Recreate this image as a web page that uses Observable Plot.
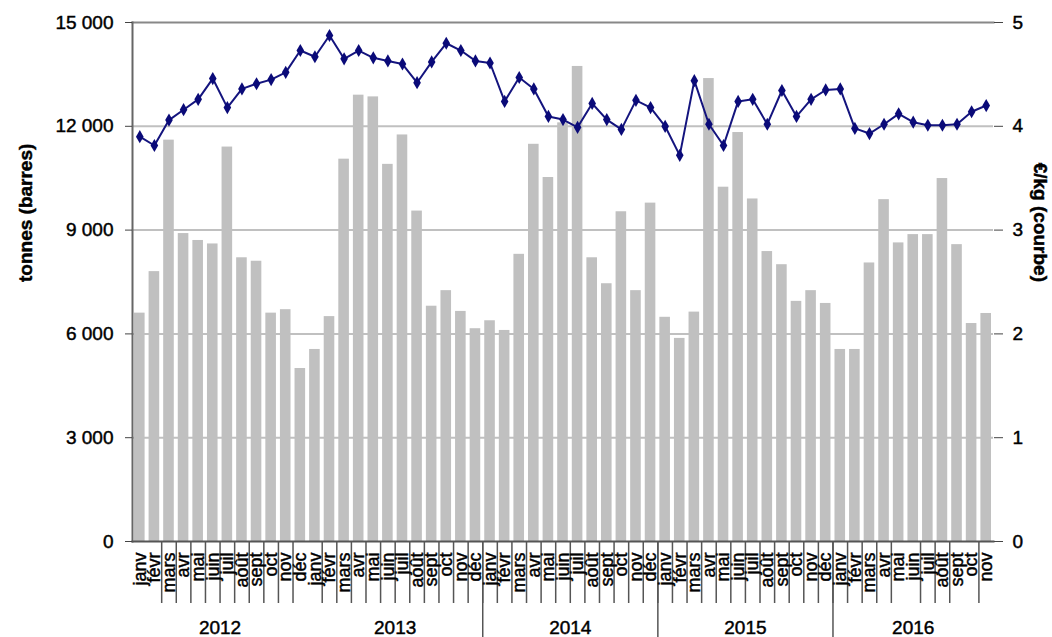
<!DOCTYPE html>
<html><head><meta charset="utf-8">
<script src="https://cdn.jsdelivr.net/npm/d3@7"></script>
<script src="https://cdn.jsdelivr.net/npm/@observablehq/plot@0.6"></script>
<style>body{margin:0;background:#fff} svg{display:block} svg text{stroke:#000;stroke-width:0.45px}</style>
</head><body><div id="chart"></div>
<script>
const years = [2012, 2013, 2014, 2015, 2016];
const monthNames = ["janv","févr","mars","avr","mai","juin","juil","août","sept","oct","nov","déc"];
const tonnes = [
  6600, 7800, 11600, 8900, 8700, 8600, 11400, 8200, 8100, 6600, 6700, 5000,
  5550, 6500, 11050, 12900, 12850, 10900, 11750, 9550, 6800, 7250, 6650, 6150,
  6380, 6100, 8300, 11480, 10520, 12100, 13730, 8200, 7450, 9530, 7250, 9780,
  6480, 5870, 6630, 13380, 10240, 11820, 9900, 8380, 8000, 6940, 7250, 6880,
  5550, 5550, 8050, 9880, 8630, 8870, 8870, 10490, 8580, 6300, 6590
];
const prix = [
  3.90, 3.815, 4.06, 4.16, 4.26, 4.46, 4.18, 4.36, 4.41, 4.45, 4.52, 4.73,
  4.67, 4.875, 4.65, 4.73, 4.66, 4.63, 4.60, 4.42, 4.62, 4.80, 4.73, 4.63,
  4.61, 4.24, 4.47, 4.36, 4.095, 4.065, 3.99, 4.22, 4.065, 3.97, 4.25, 4.18,
  4.00, 3.72, 4.44, 4.02, 3.815, 4.24, 4.26, 4.02, 4.345, 4.095, 4.26, 4.35,
  4.36, 3.98, 3.93, 4.02, 4.12, 4.04, 4.01, 4.01, 4.02, 4.14, 4.20
];
const leftTicks = [0, 3000, 6000, 9000, 12000, 15000];
const rightTicks = [0, 1, 2, 3, 4, 5];
const yearBreaks = [24, 36, 48];
const monthSeparators = d3.range(2, 59).filter(b => b !== 12 && b !== 53 && b !== 57);

const N = tonnes.length;
const ratio = 3000; // 1 €/kg on right axis = 3000 t on left axis
const data = tonnes.map((t, i) => ({
  i, t, p: prix[i], m: monthNames[i % 12], year: years[Math.floor(i / 12)]
}));

const W = 1052, H = 637, mL = 132, mR = 59, mT = 22, mB = 96;
const step = (W - mL - mR) / N;
const pxToY = px => px * 15000 / (H - mT - mB);
const fmt = d => d === 0 ? "0" : d3.format(",")(d).replace(/,/g, "\u00a0");

const yearMarks = years.map(y => {
  const idx = data.filter(d => d.year === y).map(d => d.i);
  const n = idx.length;
  const mid = idx[Math.floor(n / 2)];
  return Plot.text([y], {
    x: () => mid, y: () => 0, text: d => String(d),
    dx: n % 2 === 0 ? -step / 2 : 0, dy: 86,
    fontSize: 19, fill: "#000", lineAnchor: "middle"
  });
});

const chart = Plot.plot({
  width: W, height: H,
  marginLeft: mL, marginRight: mR, marginTop: mT, marginBottom: mB,
  style: {fontFamily: "'Liberation Sans', Arial, sans-serif", fontSize: "19px", color: "#000", background: "#fff"},
  x: {type: "band", domain: d3.range(N), padding: 0, axis: null},
  y: {domain: [0, 15000], axis: null},
  marks: [
    Plot.ruleY(leftTicks.slice(1, -1), {stroke: "#c0c0c0", strokeWidth: 2}),
    Plot.barY(data, {x: "i", y: "t", fill: "#c0c0c0", insetLeft: 2, insetRight: 2}),
    Plot.frame({anchor: "top", stroke: "#888", strokeWidth: 2}),
    Plot.frame({anchor: "left", stroke: "#666", strokeWidth: 2}),
    Plot.frame({anchor: "bottom", stroke: "#555", strokeWidth: 2}),
    Plot.axisY(leftTicks, {anchor: "left", tickFormat: fmt, tickSize: 7, tickPadding: 12, stroke: "#444", fontSize: 19, label: null}),
    Plot.axisY(rightTicks.map(v => v * ratio), {anchor: "right", tickFormat: d => String(d / ratio), tickSize: 9, tickPadding: 10, stroke: "#444", fontSize: 19, label: null}),
    Plot.ruleX(monthSeparators, {x: d => d, dx: -step / 2, y1: () => 0, y2: () => -pxToY(62), stroke: "#555", strokeWidth: 1.5}),
    Plot.ruleX(yearBreaks, {x: d => d, dx: -step / 2, y1: () => 0, y2: () => -pxToY(96), stroke: "#555", strokeWidth: 1.5}),
    Plot.line(data, {x: "i", y: d => d.p * ratio, stroke: "#14147e", strokeWidth: 2}),
    Plot.dot(data, {x: "i", y: d => d.p * ratio, symbol: "diamond", r: 4, fill: "#0a0a78", stroke: "none"}),
    Plot.text(data, {x: "i", y: () => 0, text: "m", rotate: -90, textAnchor: "end", lineAnchor: "middle", dy: 11, fontSize: 18, fill: "#000"}),
    ...yearMarks,
    Plot.text(["tonnes (barres)"], {frameAnchor: "left", dx: -107, rotate: -90, fontWeight: "bold", fontSize: 19, fill: "#000"}),
    Plot.text(["€/kg (courbe)"], {frameAnchor: "right", dx: 47, rotate: 90, fontWeight: "bold", fontSize: 19, fill: "#000"})
  ]
});
document.getElementById("chart").appendChild(chart);
</script>
</body></html>
